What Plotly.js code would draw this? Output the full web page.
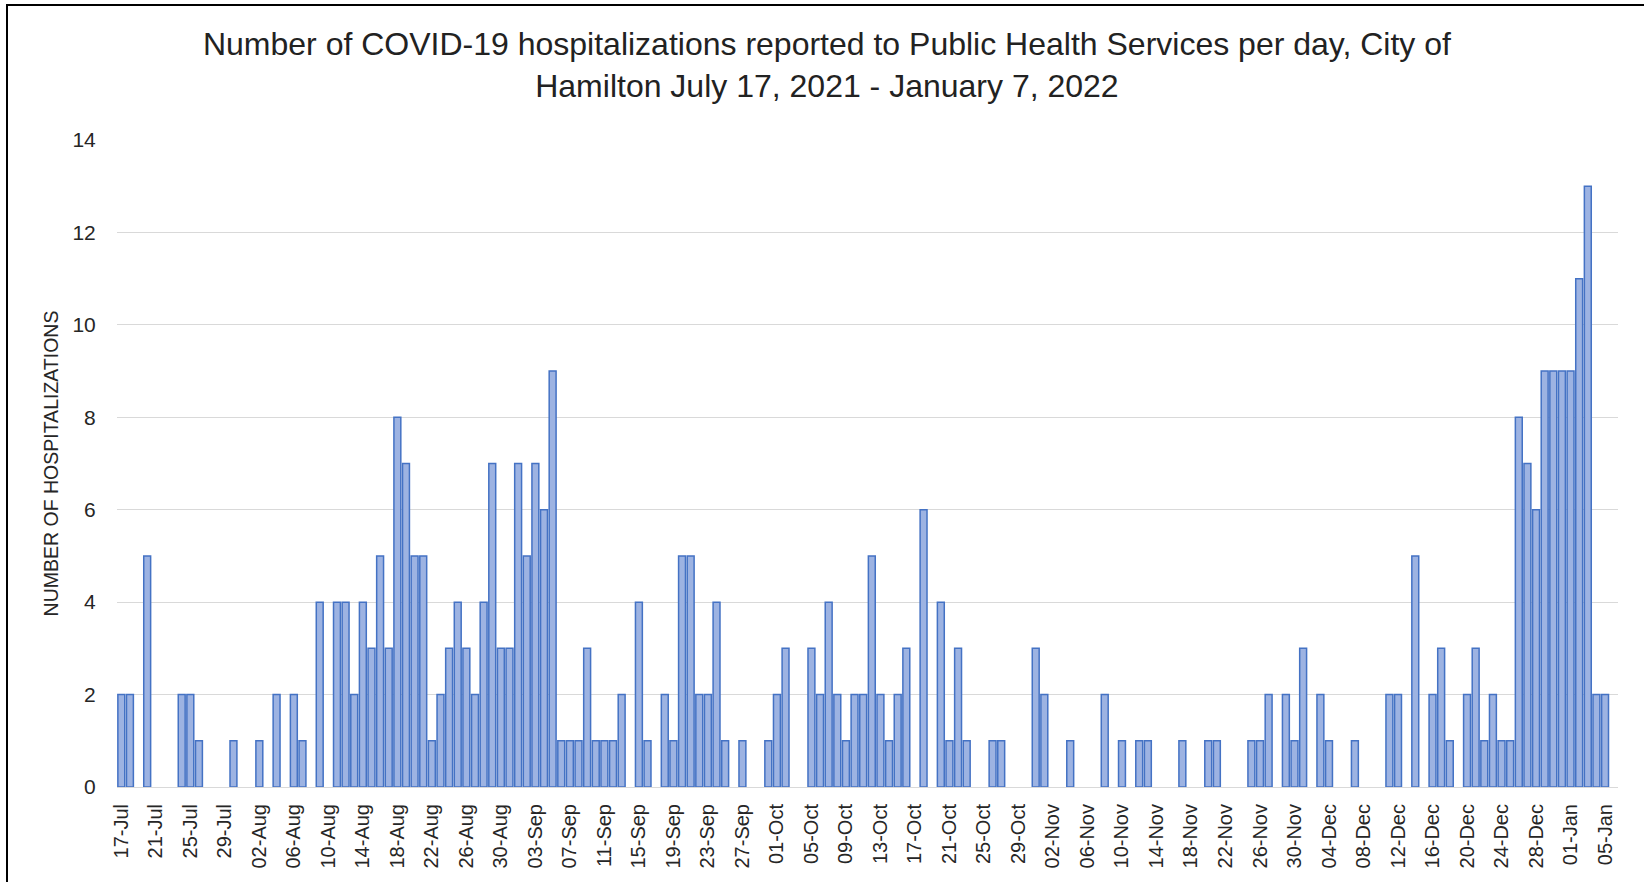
<!DOCTYPE html>
<html>
<head>
<meta charset="utf-8">
<script src="https://cdn.plot.ly/plotly-3.0.1.min.js"></script>
<style>
  html, body { margin: 0; padding: 0; background: #ffffff; overflow: hidden; }
  #chart { width: 1644px; height: 882px; }
  #frame { position: absolute; left: 6px; top: 4px; width: 1700px; height: 1000px;
           border-left: 2.5px solid #000; border-top: 2.5px solid #000; pointer-events: none; }
</style>
</head>
<body>
<div id="chart"></div>
<div id="frame"></div>
<script>
// Daily hospitalizations, 17-Jul-2021 .. 06-Jan-2022 (one value per day)
const julyValues = [2,2,0,5,0,0,0,2,2,1,0,0,0,1,0];                                   // 17-31 Jul
const augustValues = [0,1,0,2,0,2,1,0,4,0,4,4,2,4,3,5,3,8,7,5,5,1,2,3,4,3,2,4,7,3,3];   // 1-31 Aug
const septemberValues = [7,5,7,6,9,1,1,1,3,1,1,1,2,0,4,1,0,2,1,5,5,2,2,4,1,0,1,0,0,1];   // 1-30 Sep
const octoberValues = [2,3,0,0,3,2,4,2,1,2,2,5,2,1,2,3,0,6,0,4,1,3,1,0,0,1,1,0,0,0,3];  // 1-31 Oct
const novemberValues = [2,0,0,1,0,0,0,2,0,1,0,1,1,0,0,0,1,0,0,1,1,0,0,0,1,1,2,0,2,1];   // 1-30 Nov
const decemberValues = [3,0,2,1,0,0,1,0,0,0,2,2,0,5,0,2,3,1,0,2,3,1,2,1,1,8,7,6,9,9,9]; // 1-31 Dec
const januaryValues = [9,11,13,2,2,0];                                                  // 1-6 Jan

const tickLabels = ["17-Jul","21-Jul","25-Jul","29-Jul","02-Aug","06-Aug","10-Aug","14-Aug",
  "18-Aug","22-Aug","26-Aug","30-Aug","03-Sep","07-Sep","11-Sep","15-Sep","19-Sep","23-Sep",
  "27-Sep","01-Oct","05-Oct","09-Oct","13-Oct","17-Oct","21-Oct","25-Oct","29-Oct","02-Nov",
  "06-Nov","10-Nov","14-Nov","18-Nov","22-Nov","26-Nov","30-Nov","04-Dec","08-Dec","12-Dec",
  "16-Dec","20-Dec","24-Dec","28-Dec","01-Jan","05-Jan"];

const yTickValues = [0, 2, 4, 6, 8, 10, 12, 14];

const startDate = [2021, 6, 17]; // 17 July 2021
const monthNames = ["Jan","Feb","Mar","Apr","May","Jun","Jul","Aug","Sep","Oct","Nov","Dec"];

const values = [].concat(julyValues, augustValues, septemberValues, octoberValues,
                         novemberValues, decemberValues, januaryValues);

const categories = values.map(function (v, i) {
  const d = new Date(Date.UTC(startDate[0], startDate[1], startDate[2] + i));
  const dd = String(d.getUTCDate()).padStart(2, "0");
  return dd + "-" + monthNames[d.getUTCMonth()];
});

const font = "Liberation Sans, Arial, sans-serif";

const trace = {
  type: "bar",
  x: categories,
  y: values,
  marker: {
    color: "#9DB3E2",
    line: { color: "#4472C4", width: values.map(function (v) { return v > 0 ? 1.5 : 0; }) }
  },
  hoverinfo: "x+y"
};

const layout = {
  width: 1644,
  height: 882,
  margin: { l: 117, r: 26, t: 140, b: 95, pad: 0 },
  paper_bgcolor: "#ffffff",
  plot_bgcolor: "#ffffff",
  bargap: 0.2,
  showlegend: false,
  title: {
    text: "Number of COVID-19 hospitalizations reported to Public Health Services per day, City of<br>Hamilton July 17, 2021 - January 7, 2022",
    font: { family: font, size: 32, color: "#222222" },
    xref: "container", x: 0.503, xanchor: "center",
    yref: "container", y: 0.9376, yanchor: "top"
  },
  xaxis: {
    type: "category",
    range: [-0.5, categories.length - 0.5],
    tickmode: "array",
    tickvals: tickLabels,
    ticktext: tickLabels,
    tickangle: -90,
    ticks: "outside",
    ticklen: 8,
    tickcolor: "rgba(0,0,0,0)",
    tickfont: { family: font, size: 20, color: "#262626" },
    showgrid: false,
    showline: true,
    linecolor: "#D9D9D9",
    linewidth: 1,
    zeroline: false,
    fixedrange: true
  },
  yaxis: {
    range: [0, 14],
    tickmode: "array",
    tickvals: yTickValues,
    ticks: "outside",
    ticklen: 16,
    tickcolor: "rgba(0,0,0,0)",
    tickfont: { family: font, size: 21, color: "#262626" },
    showgrid: true,
    gridcolor: "#D9D9D9",
    gridwidth: 1,
    zeroline: false,
    showline: false,
    title: {
      text: "NUMBER OF HOSPITALIZATIONS",
      font: { family: font, size: 19.5, color: "#262626" },
      standoff: 8
    },
    fixedrange: true
  }
};

Plotly.newPlot("chart", [trace], layout, { displayModeBar: false, staticPlot: true });
</script>
</body>
</html>
